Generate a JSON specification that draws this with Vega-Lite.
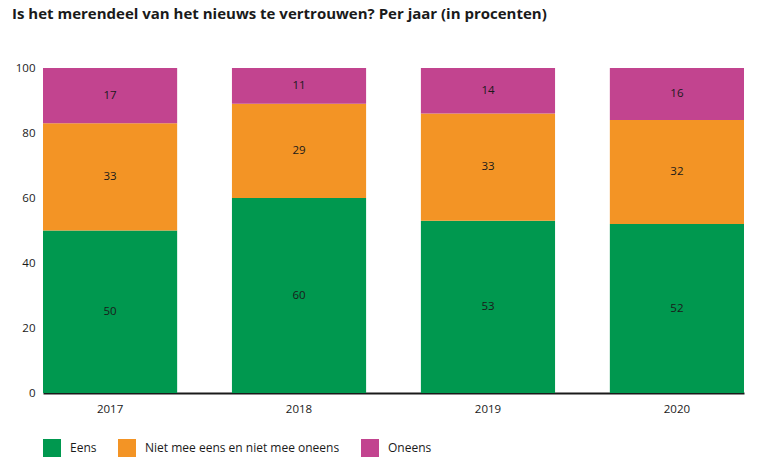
{
  "$schema": "https://vega.github.io/schema/vega-lite/v6.json",
  "autosize": {"type": "none"},
  "width": 701,
  "height": 325,
  "padding": {"left": 43, "top": 68, "right": 32, "bottom": 79},
  "background": "white",
  "title": {
    "text": "Is het merendeel van het nieuws te vertrouwen? Per jaar (in procenten)",
    "anchor": "start",
    "frame": "group",
    "dx": -31,
    "offset": 40,
    "font": "Open Sans",
    "fontSize": 15,
    "fontWeight": "bold",
    "color": "#1a1a1a"
  },
  "data": {
    "values": [
      {"jaar": "2017", "antwoord": "Eens", "pct": 50, "volg": 1},
      {"jaar": "2017", "antwoord": "Niet mee eens en niet mee oneens", "pct": 33, "volg": 2},
      {"jaar": "2017", "antwoord": "Oneens", "pct": 17, "volg": 3},
      {"jaar": "2018", "antwoord": "Eens", "pct": 60, "volg": 1},
      {"jaar": "2018", "antwoord": "Niet mee eens en niet mee oneens", "pct": 29, "volg": 2},
      {"jaar": "2018", "antwoord": "Oneens", "pct": 11, "volg": 3},
      {"jaar": "2019", "antwoord": "Eens", "pct": 53, "volg": 1},
      {"jaar": "2019", "antwoord": "Niet mee eens en niet mee oneens", "pct": 33, "volg": 2},
      {"jaar": "2019", "antwoord": "Oneens", "pct": 14, "volg": 3},
      {"jaar": "2020", "antwoord": "Eens", "pct": 52, "volg": 1},
      {"jaar": "2020", "antwoord": "Niet mee eens en niet mee oneens", "pct": 32, "volg": 2},
      {"jaar": "2020", "antwoord": "Oneens", "pct": 16, "volg": 3}
    ]
  },
  "encoding": {
    "x": {
      "field": "jaar", "type": "nominal", "title": null,
      "scale": {"paddingInner": 0.29, "paddingOuter": 0},
      "axis": {"labelAngle": 0, "ticks": false, "domainColor": "#1a1a1a", "domainWidth": 2, "labelPadding": 10, "labelFont": "Open Sans", "labelFontSize": 11.5, "labelColor": "#1a1a1a"}
    },
    "y": {
      "field": "pct", "type": "quantitative", "stack": "zero", "title": null,
      "scale": {"domain": [0, 100]},
      "axis": {"values": [0, 20, 40, 60, 80, 100], "grid": false, "domain": false, "ticks": false, "labelPadding": 8, "labelFont": "Open Sans", "labelFontSize": 11.5, "labelColor": "#1a1a1a"}
    },
    "order": {"field": "volg", "type": "quantitative"}
  },
  "layer": [
    {
      "mark": {"type": "bar"},
      "encoding": {
        "color": {
          "field": "antwoord", "type": "nominal",
          "scale": {"domain": ["Eens", "Niet mee eens en niet mee oneens", "Oneens"], "range": ["#00984f", "#f39425", "#c2448f"]},
          "legend": {
            "title": null, "orient": "bottom", "direction": "horizontal", "offset": 24,
            "symbolType": "square", "symbolSize": 324, "symbolStrokeWidth": 0, "symbolOpacity": 1,
            "labelFont": "Open Sans", "labelFontSize": 12, "labelColor": "#1a1a1a", "labelOffset": 9, "labelLimit": 0,
            "columnPadding": 21, "padding": 0
          }
        }
      }
    },
    {
      "mark": {"type": "text", "font": "Open Sans", "fontSize": 11.5, "color": "#1a1a1a"},
      "encoding": {
        "y": {"field": "pct", "type": "quantitative", "stack": "zero", "bandPosition": 0.5},
        "text": {"field": "pct", "type": "quantitative"}
      }
    }
  ],
  "config": {"view": {"stroke": null}}
}
